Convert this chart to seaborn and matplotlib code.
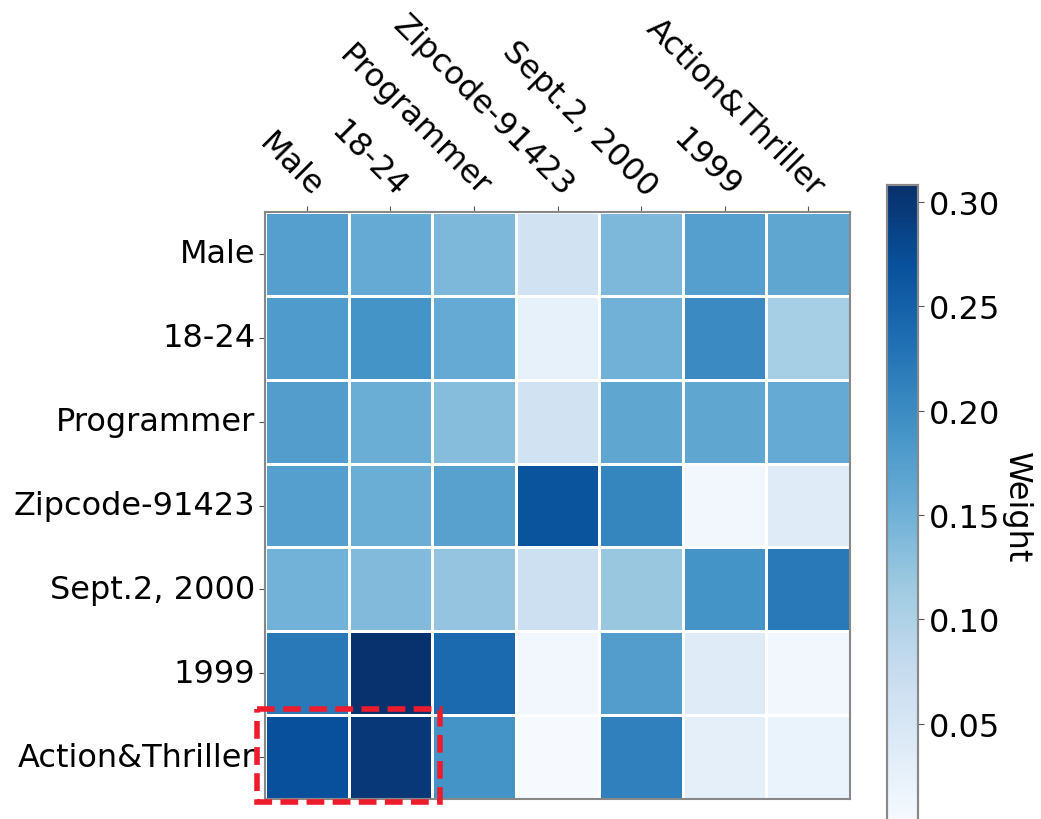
import numpy as np
import pandas as pd
import matplotlib
matplotlib.use("Agg")
import matplotlib.pyplot as plt
from matplotlib.patches import Rectangle
import seaborn as sns

features = ["Male", "18-24", "Programmer", "Zipcode-91423",
            "Sept.2, 2000", "1999", "Action&Thriller"]

w_male = [0.175, 0.160, 0.140, 0.060, 0.140, 0.175, 0.165]
w_age = [0.180, 0.190, 0.160, 0.025, 0.150, 0.200, 0.108]
w_job = [0.178, 0.154, 0.133, 0.060, 0.165, 0.165, 0.160]
w_zip = [0.175, 0.154, 0.172, 0.265, 0.207, 0.010, 0.037]
w_date = [0.148, 0.138, 0.123, 0.065, 0.120, 0.190, 0.222]
w_year = [0.222, 0.305, 0.240, 0.010, 0.178, 0.037, 0.010]
w_genre = [0.270, 0.298, 0.190, 0.002, 0.213, 0.030, 0.020]

weights = pd.DataFrame([w_male, w_age, w_job, w_zip, w_date, w_year, w_genre],
                       index=features, columns=features)

sns.set_style("white")
plt.rcParams["font.family"] = ["DejaVu Sans"]
plt.rcParams["text.color"] = "black"
plt.rcParams["axes.labelcolor"] = "black"
plt.rcParams["xtick.labelcolor"] = "black"
plt.rcParams["ytick.labelcolor"] = "black"

fig = plt.figure(figsize=(10.41, 8.2), dpi=100)
ax = fig.add_axes([0.2546, 0.0244, 0.5619, 0.7158])
cax = fig.add_axes([0.852, -0.011, 0.030, 0.784])

sns.heatmap(weights, ax=ax, cmap="Blues", vmin=0.0, vmax=0.308,
            linewidths=2, linecolor="white", cbar_ax=cax,
            cbar_kws={"ticks": [0.05, 0.10, 0.15, 0.20, 0.25, 0.30]})

ax.xaxis.tick_top()
ax.set_xlabel("")
ax.set_ylabel("")
ax.set_xticklabels(features, rotation=-45, ha="right", rotation_mode="anchor",
                   va="bottom", fontsize=23)
ax.set_yticklabels(features, rotation=0, fontsize=23)
ax.tick_params(axis="x", which="major", top=True, bottom=False, length=4,
               color="#555555", pad=3)
ax.tick_params(axis="y", which="major", left=True, length=4, color="#555555", pad=3)
for sp in ax.spines.values():
    sp.set_visible(True)
    sp.set_color("#888888")
    sp.set_linewidth(1.5)

cax.tick_params(labelsize=23, length=4, color="#555555")
cax.yaxis.set_major_formatter(matplotlib.ticker.FormatStrFormatter("%.2f"))
cax.set_ylabel("Weight", rotation=270, fontsize=23, labelpad=22)
cax.yaxis.set_label_coords(4.65, 0.5)
for sp in cax.spines.values():
    sp.set_visible(True)
    sp.set_color("#888888")
    sp.set_linewidth(1.5)

# highlight the first two cells of the last row
ax.add_patch(Rectangle((-0.1, 5.93), 2.19, 1.11, fill=False, edgecolor="#ee1b2d",
                       linewidth=4, linestyle=(0, (3.2, 1.5)), clip_on=False,
                       zorder=10))

fig.savefig("out.png", dpi=100)
